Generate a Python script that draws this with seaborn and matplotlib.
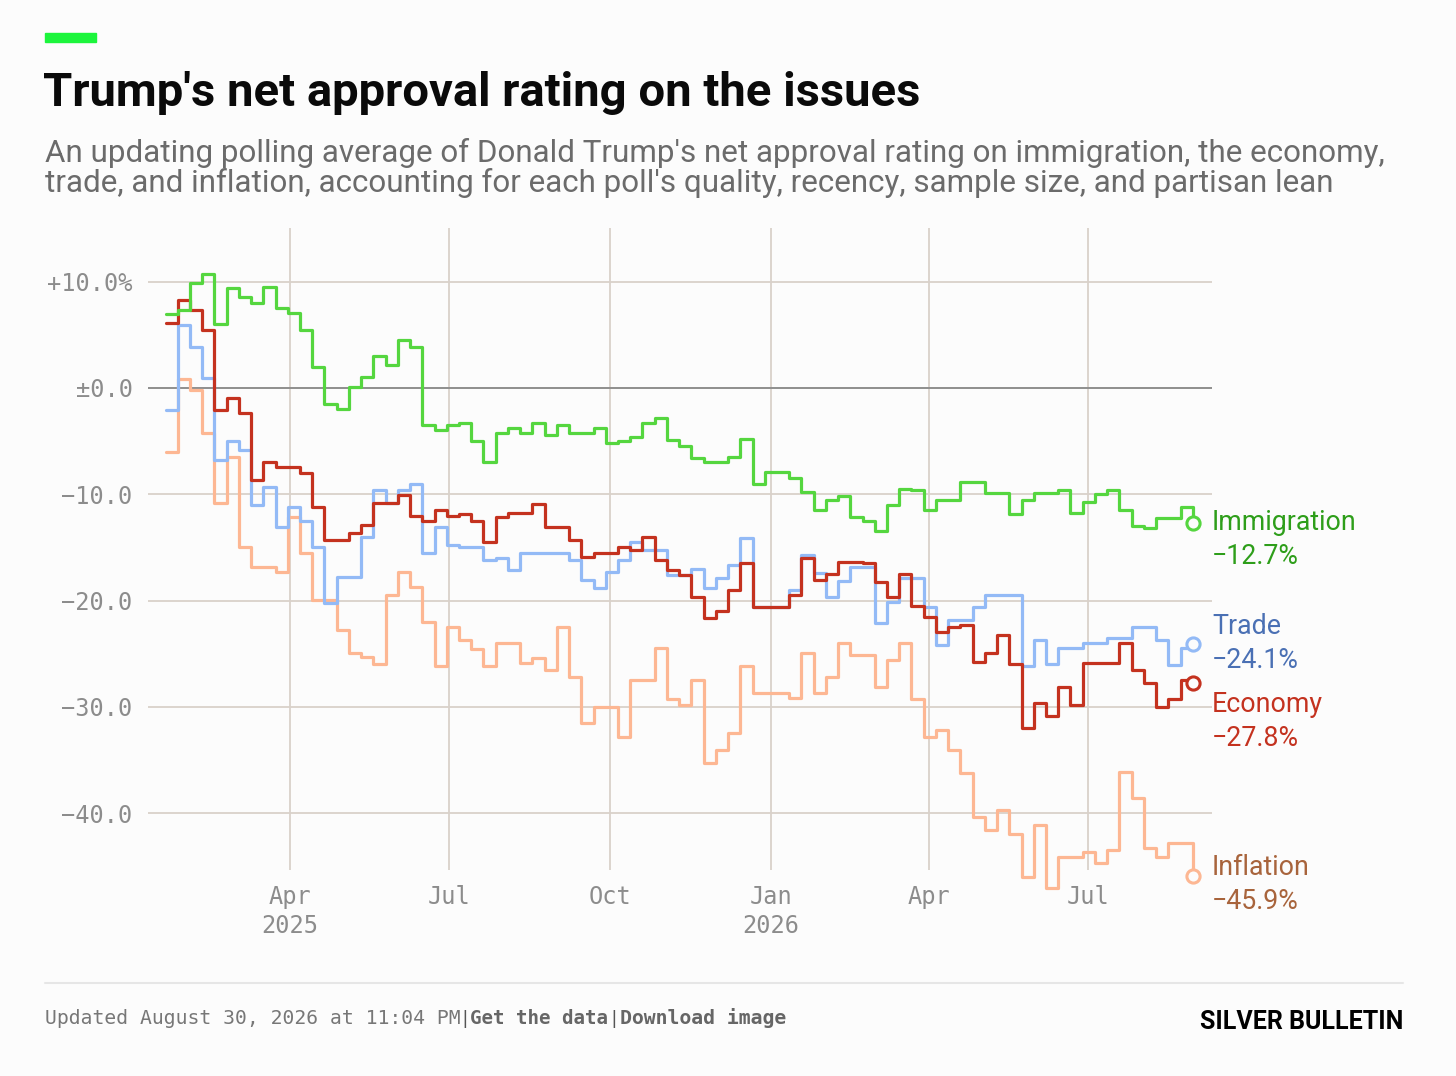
import numpy as np
import pandas as pd
import matplotlib
matplotlib.use("Agg")
import matplotlib.pyplot as plt
import matplotlib.dates as mdates
import seaborn as sns

# weekly readings, Jan 20 2025 -> Aug 30 2026
start_date = "2025-01-20"
end_date = "2026-08-30"
n_points = 85

immigration = [7.0, 7.3, 9.9, 10.7, 6.0, 9.4, 8.6, 8.0, 9.5, 7.5,
               7.1, 5.5, 2.0, -1.5, -2.0, 0.1, 1.0, 3.0, 2.2, 4.5,
               3.9, -3.5, -4.0, -3.5, -3.3, -5.0, -7.0, -4.2, -3.8, -4.2,
               -3.3, -4.4, -3.5, -4.2, -4.2, -3.8, -5.2, -5.0, -4.6, -3.3,
               -2.8, -4.9, -5.5, -6.6, -7.0, -7.0, -6.5, -4.8, -9.0, -7.9,
               -7.9, -8.5, -9.8, -11.5, -10.5, -10.2, -12.1, -12.5, -13.5, -11.0,
               -9.5, -9.6, -11.5, -10.5, -10.5, -8.8, -8.8, -9.9, -9.9, -11.9,
               -10.5, -9.9, -9.9, -9.6, -11.8, -10.7, -10.0, -9.6, -11.5, -13.0,
               -13.2, -12.2, -12.2, -11.2, -12.7]
economy = [6.1, 8.3, 7.3, 5.5, -2.1, -0.9, -2.4, -8.7, -7.0, -7.4,
           -7.4, -8.0, -11.2, -14.3, -14.3, -13.6, -12.9, -10.8, -10.8, -10.1,
           -12.0, -12.5, -11.5, -12.0, -11.9, -12.5, -14.5, -12.1, -11.8, -11.8,
           -10.9, -13.1, -13.1, -14.3, -15.9, -15.5, -15.5, -15.0, -15.2, -14.0,
           -16.2, -17.1, -17.6, -19.7, -21.6, -21.0, -19.0, -16.5, -20.6, -20.6,
           -20.6, -19.5, -16.0, -18.1, -17.5, -16.4, -16.4, -16.5, -18.3, -19.7,
           -17.5, -20.5, -21.5, -23.0, -22.5, -22.3, -25.8, -24.9, -23.2, -26.0,
           -32.0, -29.6, -30.9, -28.1, -29.8, -25.9, -25.9, -25.9, -24.0, -26.5,
           -27.8, -30.0, -29.3, -27.5, -27.8]
trade = [-2.1, 5.9, 3.9, 0.9, -6.8, -5.0, -5.8, -11.0, -9.3, -13.1,
         -11.2, -12.5, -15.0, -20.2, -17.8, -17.8, -14.0, -9.6, -10.8, -9.6,
         -9.0, -15.5, -13.1, -14.8, -15.0, -15.0, -16.2, -16.0, -17.1, -15.5,
         -15.5, -15.5, -15.5, -16.2, -18.1, -18.8, -17.3, -16.2, -14.5, -15.2,
         -15.2, -17.6, -17.6, -17.0, -18.8, -17.9, -16.7, -14.1, -20.6, -20.6,
         -20.6, -19.0, -15.7, -17.4, -19.7, -18.2, -16.8, -16.8, -22.1, -20.1,
         -17.9, -17.9, -20.6, -24.2, -21.8, -21.8, -20.6, -19.5, -19.5, -19.5,
         -26.2, -23.7, -26.0, -24.5, -24.5, -24.0, -24.0, -23.5, -23.5, -22.5,
         -22.5, -23.7, -26.1, -24.5, -24.1]
inflation = [-6.0, 0.8, -0.2, -4.2, -10.8, -6.5, -15.0, -16.8, -16.8, -17.3,
             -12.1, -15.5, -19.9, -19.9, -22.8, -24.9, -25.3, -26.0, -19.5, -17.3,
             -18.7, -22.0, -26.2, -22.5, -23.7, -24.6, -26.2, -24.0, -24.0, -25.9,
             -25.4, -26.5, -22.5, -27.2, -31.5, -30.0, -30.0, -32.8, -27.5, -27.5,
             -24.5, -29.3, -29.8, -27.5, -35.3, -34.1, -32.5, -26.2, -28.7, -28.7,
             -28.7, -29.2, -24.9, -28.7, -27.2, -24.0, -25.1, -25.1, -28.1, -25.6,
             -24.0, -29.3, -32.8, -32.2, -34.1, -36.2, -40.4, -41.6, -39.7, -42.0,
             -46.0, -41.1, -47.0, -44.1, -44.1, -43.7, -44.7, -43.5, -36.1, -38.6,
             -43.3, -44.1, -42.8, -42.8, -45.9]

issues = ["Inflation", "Trade", "Economy", "Immigration"]
line_colors = {"Immigration": "#55d63f", "Trade": "#93baf6",
               "Economy": "#c4321f", "Inflation": "#fdb793"}
label_colors = {"Immigration": "#2e9e1a", "Trade": "#4a70b4",
                "Economy": "#c4321f", "Inflation": "#a8643c"}
# vertical nudge of the end labels, in pixels (up is positive)
label_nudge = {"Immigration": 0, "Trade": 18, "Economy": -21, "Inflation": 8}

tick_dates = ["2025-04-01", "2025-07-01", "2025-10-01", "2026-01-01", "2026-04-01", "2026-07-01"]
tick_labels = ["Apr\n2025", "Jul", "Oct", "Jan\n2026", "Apr", "Jul"]
y_ticks = [10, 0, -10, -20, -30, -40]
y_labels = ["+10.0%", "\u00b10.0", "\u221210.0", "\u221220.0", "\u221230.0", "\u221240.0"]

dates = pd.date_range(start_date, end_date, periods=n_points)
series = {"Immigration": immigration, "Economy": economy, "Trade": trade, "Inflation": inflation}
df = pd.concat([pd.DataFrame({"date": dates, "value": series[k], "issue": k}) for k in issues],
               ignore_index=True)

sns.set_theme(style="white")
bg = "#fcfcfc"
mono = ["DejaVu Sans Mono"]
sans = ["Roboto", "DejaVu Sans"]

W, H = 1456, 1076
fig = plt.figure(figsize=(W / 100, H / 100), dpi=100, facecolor=bg)
ax = fig.add_axes([148 / W, 1 - 869.5 / H, (1212 - 148) / W, (869.5 - 228) / H])
ax.set_facecolor(bg)

sns.lineplot(data=df, x="date", y="value", hue="issue", hue_order=issues,
             palette=line_colors, drawstyle="steps-post", linewidth=2.3,
             legend=False, ax=ax, clip_on=False, zorder=3)

ax.set_xlim(pd.Timestamp("2025-01-10"), pd.Timestamp("2026-09-10"))
ax.set_ylim(-45.3, 15.05)
ax.set_xlabel("")
ax.set_ylabel("")
for s in ax.spines.values():
    s.set_visible(False)

ax.set_yticks(y_ticks)
ax.set_yticklabels(y_labels, fontfamily=mono, fontsize=17, color="#8c8c8c")
ax.set_xticks([pd.Timestamp(d) for d in tick_dates])
ax.set_xticklabels(tick_labels, fontfamily=mono, fontsize=17, color="#8c8c8c", linespacing=1.25)
ax.tick_params(axis="y", length=0, pad=11)
ax.tick_params(axis="x", length=0, pad=11)
ax.grid(True, color="#d9d1ca", linewidth=1.3, zorder=0)
ax.axhline(0, color="#8a8a8a", linewidth=1.3, zorder=1)

# end markers and labels
for k in issues:
    last = series[k][-1]
    ax.scatter([dates[-1]], [last], s=90, facecolor=bg, edgecolor=line_colors[k],
               linewidth=2.2, zorder=5, clip_on=False)
    ax.annotate(k, xy=(1.0, last), xycoords=("axes fraction", "data"),
                xytext=(0, label_nudge[k] * 0.72), textcoords="offset points",
                va="center", ha="left", fontsize=19.3, color=label_colors[k], fontfamily=sans)
    ax.annotate(f"\u2212{abs(last):.1f}%", xy=(1.0, last), xycoords=("axes fraction", "data"),
                xytext=(0, (label_nudge[k] - 34) * 0.72), textcoords="offset points",
                va="center", ha="left", fontsize=19.3, color=label_colors[k], fontfamily=sans)

# header
fig.patches.append(plt.Rectangle((45 / W, 1 - 42 / H), 51 / W, 9 / H,
                                 transform=fig.transFigure, color="#1cf53c"))
fig.text(43 / W, 1 - 106 / H, "Trump's net approval rating on the issues",
         fontsize=34, fontweight="bold", fontfamily=sans, color="#0a0a0a", va="baseline")
fig.text(45 / W, 1 - 162 / H,
         "An updating polling average of Donald Trump's net approval rating on immigration, the economy,",
         fontsize=22.6, fontfamily=sans, color="#6b6b6b", va="baseline")
fig.text(45 / W, 1 - 192 / H,
         "trade, and inflation, accounting for each poll's quality, recency, sample size, and partisan lean",
         fontsize=22.6, fontfamily=sans, color="#6b6b6b", va="baseline")

# footer
fig.add_artist(plt.Line2D([45 / W, 1403 / W], [1 - 983 / H, 1 - 983 / H],
                          transform=fig.transFigure, color="#e6e6e6", linewidth=1.5))
fy = 1 - 1024 / H
fig.text(45 / W, fy, "Updated August 30, 2026 at 11:04 PM", fontsize=14.2,
         fontfamily=mono, color="#777777", va="baseline")
fig.text(465 / W, fy, "|", fontsize=13, fontfamily=mono, color="#555555",
         ha="center", va="baseline")
fig.text(470 / W, fy, "Get the data", fontsize=13.8, fontfamily=mono, fontweight="bold",
         color="#666666", va="baseline")
fig.text(614 / W, fy, "|", fontsize=13, fontfamily=mono, color="#555555",
         ha="center", va="baseline")
fig.text(620 / W, fy, "Download image", fontsize=14.2, fontfamily=mono, fontweight="bold",
         color="#666666", va="baseline")
fig.text(1403 / W, 1 - 1029 / H, "SILVER BULLETIN", fontsize=18, fontweight="bold",
         fontfamily=sans, color="#000000", ha="right", va="baseline")

fig.savefig("out.png", dpi=100, facecolor=bg)
